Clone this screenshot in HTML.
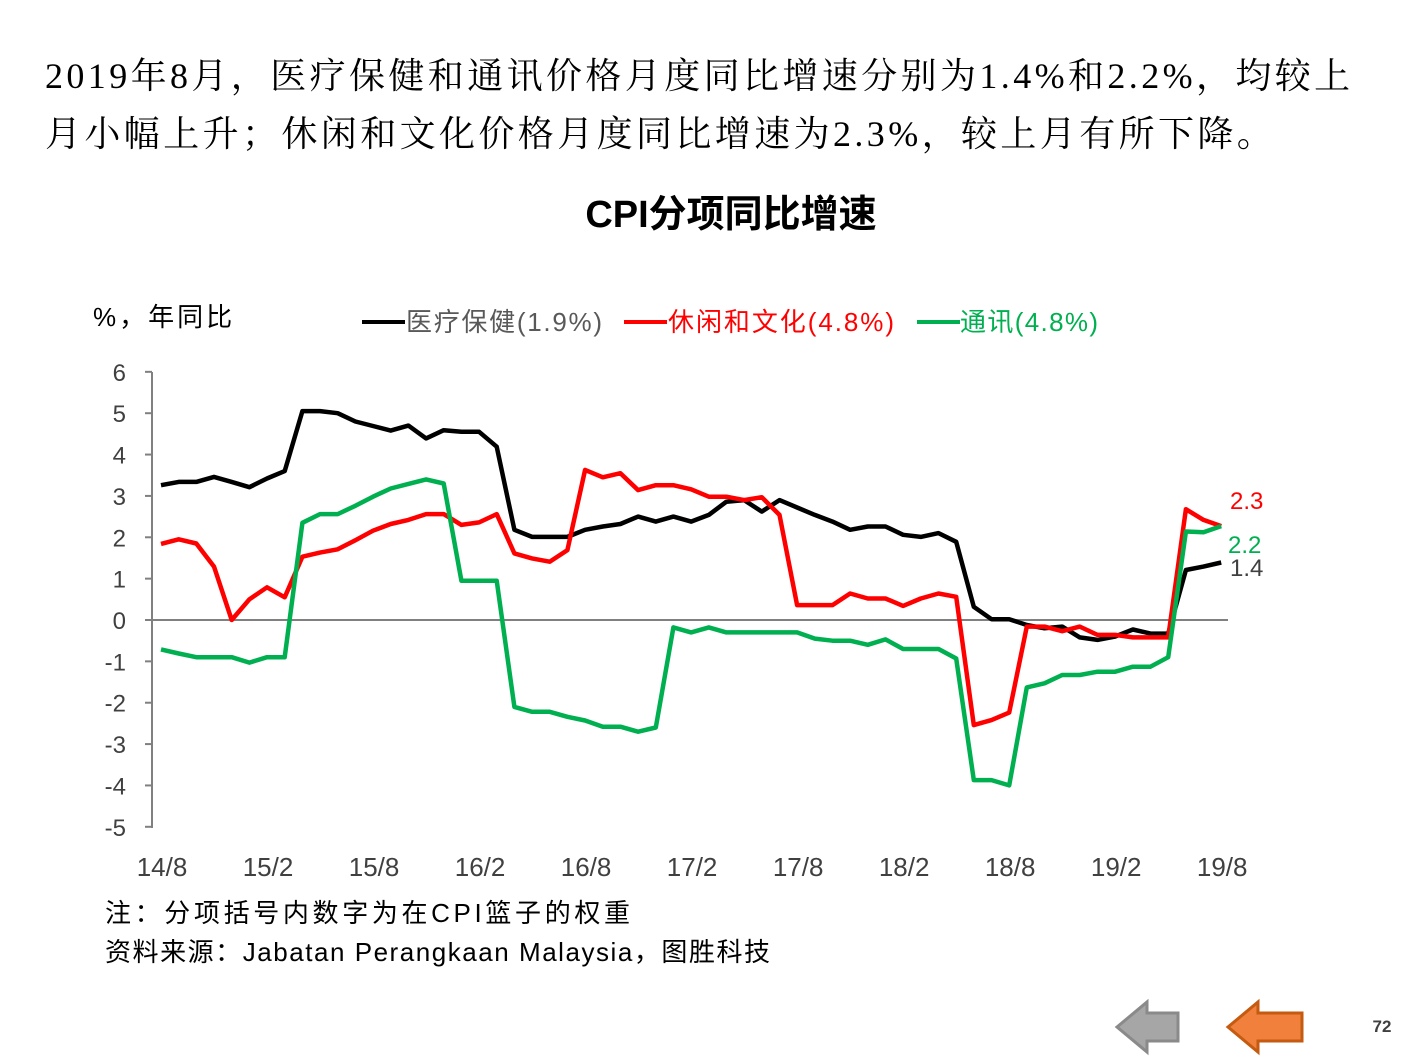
<!DOCTYPE html>
<html><head><meta charset="utf-8"><style>
body{margin:0;background:#fff;width:1411px;height:1058px;overflow:hidden;position:relative;font-family:"Liberation Sans","Noto Sans CJK SC",sans-serif}
.t{position:absolute;left:45px;font-family:"Liberation Serif","Noto Serif CJK SC",serif;font-size:36px;color:#000;white-space:nowrap;letter-spacing:3.4px}
</style></head><body>
<div class="t" style="top:48px">2019年8月，医疗保健和通讯价格月度同比增速分别为1.4%和2.2%，均较上</div>
<div class="t" style="top:106px">月小幅上升；休闲和文化价格月度同比增速为2.3%，较上月有所下降。</div>
<svg id="s" width="1411" height="1058" style="position:absolute;left:0;top:0" font-family="Liberation Sans, Noto Sans CJK SC, sans-serif">
<text x="731" y="227" font-size="38" font-weight="bold" text-anchor="middle">CPI分项同比增速</text>
<text x="93" y="326" font-size="26" fill="#000" letter-spacing="3">%，年同比</text>
<line x1="362" y1="322" x2="405" y2="322" stroke="#000" stroke-width="4"/>
<text x="406" y="331" font-size="26" fill="#595959" textLength="196">医疗保健(1.9%)</text>
<line x1="624" y1="322" x2="667" y2="322" stroke="#f00" stroke-width="4"/>
<text x="668" y="331" font-size="26" fill="#f00" textLength="226">休闲和文化(4.8%)</text>
<line x1="917" y1="322" x2="960" y2="322" stroke="#00b050" stroke-width="4"/>
<text x="960" y="331" font-size="26" fill="#00b050" textLength="138">通讯(4.8%)</text>
<g id="ax"></g>
<text x="1230" y="509" font-size="24" fill="#f00">2.3</text>
<text x="1228" y="553" font-size="24" fill="#00b050">2.2</text>
<text x="1230" y="576" font-size="24" fill="#404040">1.4</text>
<text x="105" y="922" font-size="26" textLength="525">注：分项括号内数字为在CPI篮子的权重</text>
<text x="105" y="961" font-size="26" textLength="665">资料来源：Jabatan Perangkaan Malaysia，图胜科技</text>
<polygon points="1117,1027 1147,1002 1147,1013 1178,1013 1178,1041 1147,1041 1147,1052" fill="#a6a6a6" stroke="#8a8a8a" stroke-width="3"/>
<polygon points="1228,1027 1258,1002 1258,1013 1302,1013 1302,1041 1258,1041 1258,1052" fill="#f0803c" stroke="#c55a11" stroke-width="3"/>
<text x="1382" y="1032" font-size="17" font-weight="bold" fill="#404040" text-anchor="middle">72</text>
</svg>
<script>
var s=document.getElementById('ax'),h='';
function Y(v){return 620-v*41.36}
function X(i){return 161+i*17.67}
h+='<line x1="152" y1="372" x2="152" y2="828" stroke="#808080" stroke-width="2"/>';
for(var v=6;v>=-5;v--){var y=Y(v);h+='<line x1="145" y1="'+y+'" x2="152" y2="'+y+'" stroke="#808080" stroke-width="2"/>';
h+='<text x="126" y="'+(y+9)+'" font-size="24" text-anchor="end" fill="#404040">'+v+'</text>';}
h+='<line x1="152" y1="620" x2="1228" y2="620" stroke="#808080" stroke-width="2"/>';
var xl=['14/8','15/2','15/8','16/2','16/8','17/2','17/8','18/2','18/8','19/2','19/8'];
for(var k=0;k<11;k++)h+='<text x="'+(X(k*6)+1)+'" y="876" font-size="26" text-anchor="middle" fill="#404040">'+xl[k]+'</text>';
var B=[3.26,3.34,3.34,3.46,3.34,3.21,3.42,3.6,5.05,5.05,5.0,4.8,4.69,4.58,4.7,4.39,4.59,4.55,4.55,4.19,2.18,2.01,2.01,2.01,2.18,2.26,2.32,2.5,2.38,2.5,2.38,2.54,2.86,2.9,2.62,2.9,2.72,2.54,2.38,2.18,2.26,2.26,2.06,2.01,2.1,1.89,0.32,0.02,0.02,-0.12,-0.2,-0.16,-0.42,-0.48,-0.4,-0.23,-0.33,-0.33,1.21,1.29,1.39];
var R=[1.84,1.95,1.85,1.29,0,0.5,0.79,0.55,1.53,1.63,1.71,1.93,2.16,2.32,2.42,2.56,2.56,2.3,2.36,2.56,1.61,1.49,1.41,1.69,3.63,3.45,3.55,3.14,3.26,3.26,3.16,2.98,2.98,2.9,2.97,2.54,0.36,0.36,0.36,0.64,0.52,0.52,0.34,0.52,0.64,0.56,-2.54,-2.42,-2.24,-0.16,-0.16,-0.27,-0.16,-0.36,-0.36,-0.42,-0.42,-0.42,2.68,2.42,2.27];
var G=[-0.71,-0.81,-0.9,-0.9,-0.9,-1.03,-0.9,-0.9,2.35,2.56,2.56,2.76,2.98,3.18,3.29,3.4,3.3,0.95,0.95,0.95,-2.1,-2.22,-2.22,-2.34,-2.43,-2.58,-2.58,-2.7,-2.6,-0.18,-0.3,-0.18,-0.3,-0.3,-0.3,-0.3,-0.3,-0.45,-0.5,-0.5,-0.6,-0.47,-0.7,-0.7,-0.7,-0.93,-3.87,-3.87,-4.0,-1.63,-1.53,-1.33,-1.33,-1.25,-1.25,-1.13,-1.13,-0.9,2.14,2.12,2.27];
function P(a,c){var p=a.map(function(v,i){return X(i).toFixed(1)+','+Y(v).toFixed(1)}).join(' ');return '<polyline points="'+p+'" fill="none" stroke="'+c+'" stroke-width="4.5" stroke-linejoin="round"/>'}
h+=P(B,'#000')+P(R,'#f00')+P(G,'#00b050');
s.innerHTML=h;
</script>
</body></html>
